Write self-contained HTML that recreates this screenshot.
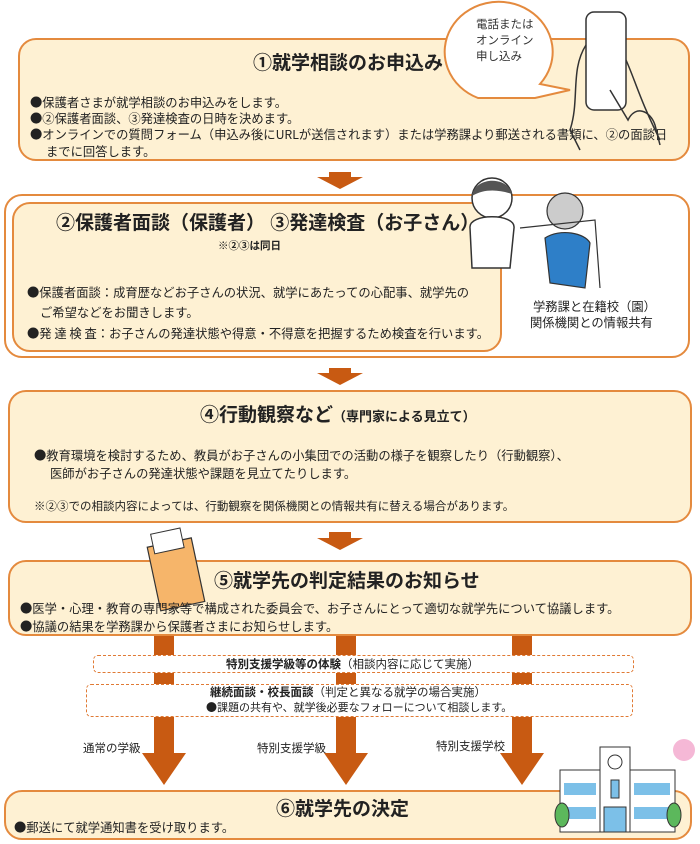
<!DOCTYPE html>
<html><head><meta charset="utf-8"><style>
*{margin:0;padding:0;box-sizing:border-box}
body{width:700px;height:844px;background:#fff;position:relative;overflow:hidden;font-family:"Liberation Sans","Noto Sans CJK JP",sans-serif;color:#222}
.a{position:absolute}
.box{position:absolute;background:#fef1d3;border:2px solid #e48a3e;border-radius:18px}
.t{position:absolute;font-weight:bold;font-size:19px;white-space:nowrap}
.p{position:absolute;font-size:12.3px;white-space:nowrap;line-height:16px;font-family:"Noto Sans CJK JP","Liberation Sans",sans-serif}
.arr{position:absolute;width:0;height:0;border-left:23px solid transparent;border-right:23px solid transparent;border-top:12px solid #c85a12}
.ab{position:absolute;background:#c85a12;height:6px;width:22px}
.bar{position:absolute;background:#c85a12;width:20px}
.head{position:absolute;width:0;height:0;border-left:22px solid transparent;border-right:22px solid transparent;border-top:32px solid #c85a12}
.dash{position:absolute;border:1.5px dashed #e07a34;border-radius:5px;background:#fff}
</style></head><body>

<div class="box" style="left:18px;top:38px;width:672px;height:123px"></div>
<div class="t" style="left:253px;top:48px">①就学相談のお申込み</div>
<div class="p" style="left:30px;top:94px">●保護者さまが就学相談のお申込みをします。</div>
<div class="p" style="left:30px;top:110px">●②保護者面談、③発達検査の日時を決めます。</div>
<div class="p" style="left:30px;top:126px">●オンラインでの質問フォーム（申込み後にURLが送信されます）または学務課より郵送される書類に、②の面談日</div>
<div class="p" style="left:46px;top:143px">までに回答します。</div>

<svg class="a" style="left:440px;top:0" width="260" height="165">
<path d="M38 98 A54 50 0 1 1 100 84 L130 90 L95 98 Z" fill="#fff" stroke="#e48a3e" stroke-width="2"/>
<text x="36" y="28" font-size="11.5" fill="#333">電話または</text>
<text x="36" y="44" font-size="11.5" fill="#333">オンライン</text>
<text x="36" y="60" font-size="11.5" fill="#333">申し込み</text>
<rect x="146" y="12" width="40" height="98" rx="8" fill="#fff" stroke="#333" stroke-width="1.5"/>
<path d="M146 45 C130 70 140 100 130 130 L140 150 M186 60 C195 80 200 100 220 140" fill="none" stroke="#333" stroke-width="1.5"/>
<path d="M170 90 L188 120 C195 105 210 110 215 125 L220 145" fill="none" stroke="#333" stroke-width="1.5"/>
</svg>

<div class="ab" style="left:329px;top:172px"></div>
<div class="arr" style="left:317px;top:177px"></div>

<div class="a" style="left:4px;top:194px;width:686px;height:164px;border:2px solid #e48a3e;border-radius:18px;background:#fff"></div>
<div class="box" style="left:12px;top:202px;width:490px;height:150px"></div>
<div class="t" style="left:56px;top:208px">②保護者面談（保護者） ③発達検査（お子さん）</div>
<div class="p" style="left:218px;top:238px;font-size:10.5px;font-weight:bold">※②③は同日</div>
<div class="p" style="left:27px;top:284px">●保護者面談：成育歴などお子さんの状況、就学にあたっての心配事、就学先の</div>
<div class="p" style="left:40px;top:304px">ご希望などをお聞きします。</div>
<div class="p" style="left:27px;top:325px">●発 達 検 査：お子さんの発達状態や得意・不得意を把握するため検査を行います。</div>
<div class="p" style="left:533px;top:298px">学務課と在籍校（園）</div>
<div class="p" style="left:530px;top:314px">関係機関との情報共有</div>
<svg class="a" style="left:450px;top:168px" width="170" height="130">
<circle cx="42" cy="30" r="20" fill="#fff" stroke="#333" stroke-width="1.5"/>
<path d="M22 28 C25 8 58 8 62 26 C50 22 35 20 22 28Z" fill="#555"/>
<path d="M20 60 C18 45 66 45 64 60 L60 100 L22 100 Z" fill="#fff" stroke="#333" stroke-width="1.5"/>
<circle cx="115" cy="43" r="18" fill="#ccc" stroke="#333" stroke-width="1.2"/>
<path d="M95 70 C110 60 135 65 140 75 L135 120 L100 115 Z" fill="#2e7fc8" stroke="#333" stroke-width="1.2"/>
<path d="M70 60 L145 52 L150 120" fill="none" stroke="#333" stroke-width="1.2"/>
</svg>

<div class="ab" style="left:329px;top:368px"></div>
<div class="arr" style="left:317px;top:373px"></div>

<div class="box" style="left:8px;top:390px;width:684px;height:133px"></div>
<div class="t" style="left:200px;top:400px">④行動観察など<span style="font-size:13px">（専門家による見立て）</span></div>
<div class="p" style="left:34px;top:447px">●教育環境を検討するため、教員がお子さんの小集団での活動の様子を観察したり（行動観察）、</div>
<div class="p" style="left:50px;top:465px">医師がお子さんの発達状態や課題を見立てたりします。</div>
<div class="p" style="left:34px;top:498px;font-size:11.5px">※②③での相談内容によっては、行動観察を関係機関との情報共有に替える場合があります。</div>

<div class="ab" style="left:329px;top:532px"></div>
<div class="arr" style="left:317px;top:538px"></div>

<div class="box" style="left:8px;top:560px;width:684px;height:76px"></div>
<svg class="a" style="left:145px;top:522px" width="70" height="92">
<rect x="8" y="20" width="45" height="65" fill="#f6b56a" stroke="#333" stroke-width="1.2" transform="rotate(-12 30 50)"/>
<rect x="14" y="8" width="30" height="20" fill="#fff" stroke="#333" stroke-width="1" transform="rotate(-12 30 50)"/>
</svg>
<div class="t" style="left:214px;top:566px">⑤就学先の判定結果のお知らせ</div>
<div class="p" style="left:20px;top:600px">●医学・心理・教育の専門家等で構成された委員会で、お子さんにとって適切な就学先について協議します。</div>
<div class="p" style="left:20px;top:618px">●協議の結果を学務課から保護者さまにお知らせします。</div>

<div class="bar" style="left:154px;top:636px;height:118px"></div>
<div class="bar" style="left:336px;top:636px;height:118px"></div>
<div class="bar" style="left:512px;top:636px;height:118px"></div>
<div class="head" style="left:142px;top:753px"></div>
<div class="head" style="left:324px;top:753px"></div>
<div class="head" style="left:500px;top:753px"></div>

<div class="dash" style="left:93px;top:655px;width:541px;height:18px"></div>
<div class="p" style="left:226px;top:656px;font-size:11.5px"><b>特別支援学級等の体験</b>（相談内容に応じて実施）</div>
<div class="dash" style="left:86px;top:684px;width:547px;height:33px"></div>
<div class="p" style="left:210px;top:684px;font-size:11.5px"><b>継続面談・校長面談</b>（判定と異なる就学の場合実施）</div>
<div class="p" style="left:206px;top:699px;font-size:11px">●課題の共有や、就学後必要なフォローについて相談します。</div>

<div class="p" style="left:83px;top:740px;font-size:11.5px">通常の学級</div>
<div class="p" style="left:257px;top:740px;font-size:11.5px">特別支援学級</div>
<div class="p" style="left:436px;top:738px;font-size:11.5px">特別支援学校</div>

<div class="box" style="left:4px;top:790px;width:688px;height:50px"></div>
<div class="t" style="left:276px;top:794px">⑥就学先の決定</div>
<div class="p" style="left:14px;top:819px">●郵送にて就学通知書を受け取ります。</div>

<svg class="a" style="left:552px;top:735px" width="148" height="105">
<rect x="8" y="35" width="115" height="62" fill="#fff" stroke="#333"/>
<rect x="48" y="12" width="30" height="85" fill="#fff" stroke="#333"/>
<circle cx="63" cy="27" r="7" fill="#fff" stroke="#333"/>
<rect x="59" y="45" width="8" height="18" fill="#7cc0e8" stroke="#333"/>
<rect x="12" y="48" width="32" height="12" fill="#7cc0e8"/><rect x="82" y="48" width="36" height="12" fill="#7cc0e8"/>
<rect x="12" y="72" width="32" height="12" fill="#7cc0e8"/><rect x="82" y="72" width="36" height="12" fill="#7cc0e8"/>
<rect x="52" y="72" width="22" height="25" fill="#7cc0e8" stroke="#333"/>
<ellipse cx="10" cy="80" rx="7" ry="12" fill="#5cb85c" stroke="#333"/>
<ellipse cx="122" cy="80" rx="7" ry="12" fill="#5cb85c" stroke="#333"/>
<circle cx="132" cy="15" r="11" fill="#f5b8d6"/>
</svg>
</body></html>
